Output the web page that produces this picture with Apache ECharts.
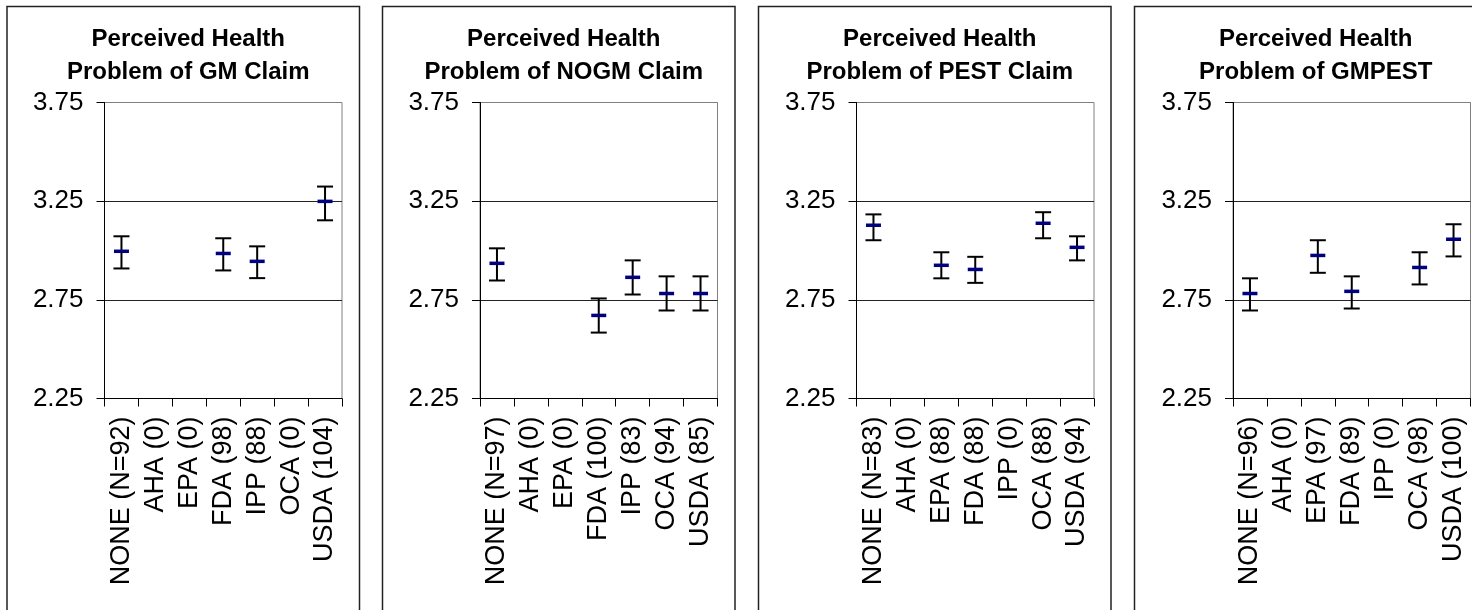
<!DOCTYPE html>
<html>
<head>
<meta charset="utf-8">
<title>Perceived Health Problem</title>
<script src="https://cdn.jsdelivr.net/npm/echarts@6/dist/echarts.min.js"></script>
<style>
  html, body { margin: 0; padding: 0; background: #fff; }
  #chart { width: 1472px; height: 610px; }
</style>
</head>
<body>
<div id="chart"></div>
<script>
// Panel titles
const titles = [
  'Perceived Health\nProblem of GM Claim',
  'Perceived Health\nProblem of NOGM Claim',
  'Perceived Health\nProblem of PEST Claim',
  'Perceived Health\nProblem of GMPEST'
];

// Source of claim with sample size, per panel
const catsGM     = ['NONE (N=92)', 'AHA (0)', 'EPA (0)', 'FDA (98)', 'IPP (88)', 'OCA (0)', 'USDA (104)'];
const catsNOGM   = ['NONE (N=97)', 'AHA (0)', 'EPA (0)', 'FDA (100)', 'IPP (83)', 'OCA (94)', 'USDA (85)'];
const catsPEST   = ['NONE (N=83)', 'AHA (0)', 'EPA (88)', 'FDA (88)', 'IPP (0)', 'OCA (88)', 'USDA (94)'];
const catsGMPEST = ['NONE (N=96)', 'AHA (0)', 'EPA (97)', 'FDA (89)', 'IPP (0)', 'OCA (98)', 'USDA (100)'];

// Mean ratings (null where no respondents)
const meanGM     = [2.996, null, null, 2.985, 2.945, null, 3.249];
const meanNOGM   = [2.935, null, null, 2.671, 2.864, 2.782, 2.782];
const meanPEST   = [3.128, null, 2.925, 2.904, null, 3.138, 3.016];
const meanGMPEST = [2.782, null, 2.975, 2.793, null, 2.914, 3.057];

// Lower ends of the error bars
const lowGM     = [2.909, null, null, 2.899, 2.860, null, 3.153];
const lowNOGM   = [2.848, null, null, 2.584, 2.777, 2.696, 2.696];
const lowPEST   = [3.052, null, 2.859, 2.836, null, 3.062, 2.950];
const lowGMPEST = [2.696, null, 2.887, 2.706, null, 2.828, 2.970];

// Upper ends of the error bars
const highGM     = [3.072, null, null, 3.062, 3.021, null, 3.324];
const highNOGM   = [3.011, null, null, 2.757, 2.950, 2.869, 2.869];
const highPEST   = [3.183, null, 2.991, 2.968, null, 3.194, 3.072];
const highGMPEST = [2.859, null, 3.052, 2.869, null, 2.991, 3.133];

// Value axis range and ticks
const yMin = 2.25, yMax = 3.75, yStep = 0.5;

const panels = [
  { cats: catsGM,     mean: meanGM,     low: lowGM,     high: highGM },
  { cats: catsNOGM,   mean: meanNOGM,   low: lowNOGM,   high: highNOGM },
  { cats: catsPEST,   mean: meanPEST,   low: lowPEST,   high: highPEST },
  { cats: catsGMPEST, mean: meanGMPEST, low: lowGMPEST, high: highGMPEST }
];

// Layout of the four framed panels
const boxLeft  = [7, 382.5, 758.5, 1134.5];
const boxWidth = 352.5;
const gridLeft = [104.5, 480, 856.5, 1233];
const gridWidth = 237.5;
const gridTop = 102.5, gridHeight = 296;

const FONT = '"Liberation Sans", Arial, Helvetica, sans-serif';

function renderErrorBar(params, api) {
  const x = api.value(0);
  const pm = api.coord([x, api.value(1)]);
  const pl = api.coord([x, api.value(2)]);
  const ph = api.coord([x, api.value(3)]);
  const cap = 8, dash = 7.5;
  const black = { stroke: '#000', lineWidth: 2 };
  return {
    type: 'group',
    children: [
      { type: 'line', shape: { x1: pl[0], y1: pl[1], x2: ph[0], y2: ph[1] }, style: black },
      { type: 'line', shape: { x1: ph[0] - cap, y1: ph[1], x2: ph[0] + cap, y2: ph[1] }, style: black },
      { type: 'line', shape: { x1: pl[0] - cap, y1: pl[1], x2: pl[0] + cap, y2: pl[1] }, style: black },
      { type: 'line', shape: { x1: pm[0] - dash, y1: pm[1], x2: pm[0] + dash, y2: pm[1] },
        style: { stroke: '#000080', lineWidth: 3.5 } }
    ]
  };
}

const option = {
  backgroundColor: '#fff',
  animation: false,
  title: titles.map((t, i) => ({
    text: t,
    left: boxLeft[i] + boxWidth / 2,
    top: 18,
    textAlign: 'center',
    textStyle: { fontFamily: FONT, fontSize: 24, fontWeight: 'bold', color: '#000', lineHeight: 33 }
  })),
  graphic: boxLeft.map(x => ({
    type: 'rect',
    shape: { x: x, y: 6.5, width: boxWidth, height: 700 },
    style: { fill: 'none', stroke: '#222', lineWidth: 1.5 },
    silent: true
  })),
  grid: panels.map((p, i) => ({
    left: gridLeft[i], top: gridTop, width: gridWidth, height: gridHeight,
    containLabel: false, outerBoundsMode: 'none',
    show: true, borderColor: '#808080', borderWidth: 1, backgroundColor: 'transparent'
  })),
  xAxis: panels.map((p, i) => ({
    type: 'category',
    gridIndex: i,
    data: p.cats,
    boundaryGap: true,
    axisLine: { show: true, lineStyle: { color: '#000', width: 1 } },
    axisTick: { show: true, inside: false, length: 8, alignWithLabel: false, interval: 0,
                lineStyle: { color: '#000', width: 1 } },
    axisLabel: { show: true, rotate: 90, interval: 0, margin: 18, hideOverlap: false,
                 fontFamily: FONT, fontSize: 27, color: '#000' },
    splitLine: { show: false }
  })),
  yAxis: panels.map((p, i) => ({
    type: 'value',
    gridIndex: i,
    min: yMin, max: yMax, interval: yStep,
    axisLine: { show: true, lineStyle: { color: '#000', width: 1 } },
    axisTick: { show: true, inside: false, length: 8, lineStyle: { color: '#000', width: 1 } },
    axisLabel: { show: true, margin: 21, fontFamily: FONT, fontSize: 26, color: '#000',
                 formatter: v => v.toFixed(2) },
    splitLine: { show: true, lineStyle: { color: ['#000', '#222', '#222', '#808080'], width: 1 } }
  })),
  series: panels.map((p, i) => ({
    type: 'custom',
    xAxisIndex: i,
    yAxisIndex: i,
    renderItem: renderErrorBar,
    encode: { x: 0, y: [1, 2, 3] },
    data: p.mean.map((m, k) => (m == null ? null : [k, m, p.low[k], p.high[k]])).filter(d => d),
    clip: false
  }))
};

const chart = echarts.init(document.getElementById('chart'), null, { renderer: 'canvas' });
chart.setOption(option);
</script>
</body>
</html>
